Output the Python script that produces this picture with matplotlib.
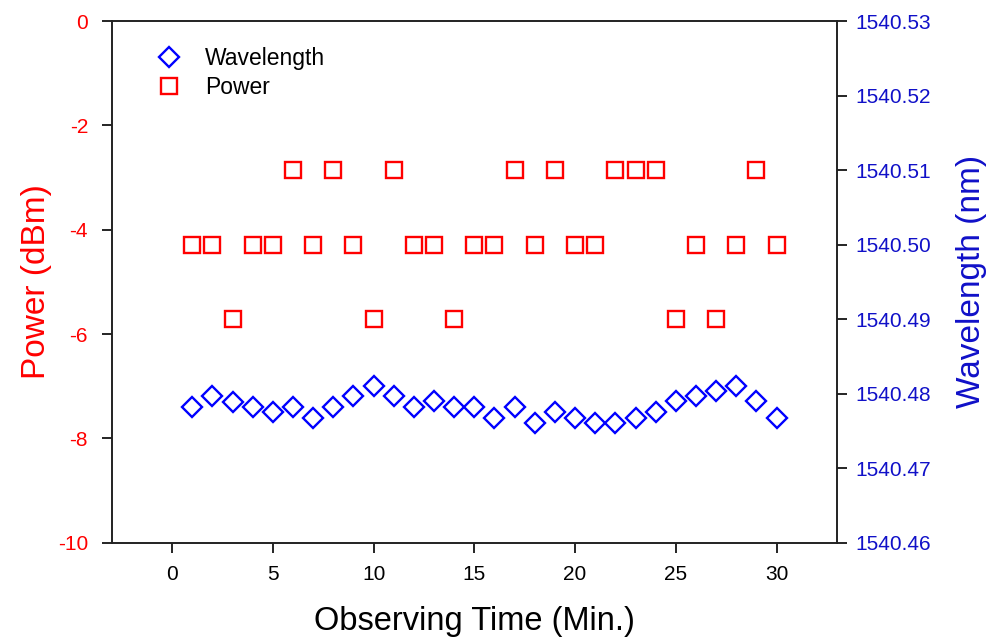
import matplotlib
matplotlib.use("Agg")
import matplotlib.pyplot as plt
from matplotlib.ticker import MultipleLocator, FormatStrFormatter

plt.rcParams['font.family'] = ['Liberation Sans', 'DejaVu Sans']
plt.rcParams['axes.unicode_minus'] = False

time_min = list(range(1, 31))
power_dbm = [-4.29, -4.29, -5.71, -4.29, -4.29, -2.86, -4.29, -2.86, -4.29, -5.71,
             -2.86, -4.29, -4.29, -5.71, -4.29, -4.29, -2.86, -4.29, -2.86, -4.29,
             -4.29, -2.86, -2.86, -2.86, -5.71, -4.29, -5.71, -4.29, -2.86, -4.29]
wavelength_nm = [1540.4782, 1540.4797, 1540.4789, 1540.4782, 1540.4775, 1540.4782,
                 1540.4768, 1540.4782, 1540.4797, 1540.4810, 1540.4797, 1540.4782,
                 1540.4790, 1540.4782, 1540.4782, 1540.4768, 1540.4782, 1540.4761,
                 1540.4775, 1540.4768, 1540.4761, 1540.4761, 1540.4768, 1540.4775,
                 1540.4790, 1540.4797, 1540.4804, 1540.4810, 1540.4790, 1540.4768]

fig = plt.figure(figsize=(9.87, 6.39), dpi=100)
ax = fig.add_subplot(111)
fig.subplots_adjust(left=0.1132, right=0.848, top=0.967, bottom=0.1507)
ax2 = ax.twinx()

p_pw, = ax.plot(time_min, power_dbm, 's', ms=11, mfc='none', mec='red', mew=1.7,
                linestyle='none', label='Power')
p_wl, = ax2.plot(time_min, wavelength_nm, 'D', ms=10.5, mfc='none', mec='blue', mew=1.7,
                 linestyle='none', label='Wavelength')

ax.set_xlim(-3, 33)
ax.set_ylim(-10, 0)
ax2.set_ylim(1540.46, 1540.53)

ax.xaxis.set_major_locator(MultipleLocator(5))
ax.yaxis.set_major_locator(MultipleLocator(2))
ax2.yaxis.set_major_locator(MultipleLocator(0.01))
ax2.yaxis.set_major_formatter(FormatStrFormatter('%.2f'))

ax.tick_params(axis='x', direction='out', length=7, width=1.2, labelsize=15, pad=9)
ax.tick_params(axis='y', direction='out', length=7, width=1.2, labelsize=15,
               labelcolor='red', pad=10)
ax2.tick_params(axis='y', direction='out', length=7, width=1.2, labelsize=15,
                labelcolor='#1010c8', pad=6)
ax.xaxis.set_ticks_position('bottom')

for a in (ax, ax2):
    for s in a.spines.values():
        s.set_linewidth(1.2)
        s.set_color('#222222')

ax.set_xlabel('Observing Time (Min.)', fontsize=23.5, labelpad=16)
ax.set_ylabel('Power (dBm)', fontsize=24, color='red', labelpad=4)
ax2.set_ylabel('Wavelength (nm)', fontsize=24, color='#1010c8', labelpad=18)

ax.legend([p_wl, p_pw], ['Wavelength', 'Power'], loc='upper left', frameon=False,
          fontsize=16.5, bbox_to_anchor=(0.027, 0.99), handletextpad=0.8,
          labelspacing=0.25, handlelength=1.5)

fig.savefig('out.png', dpi=100)
